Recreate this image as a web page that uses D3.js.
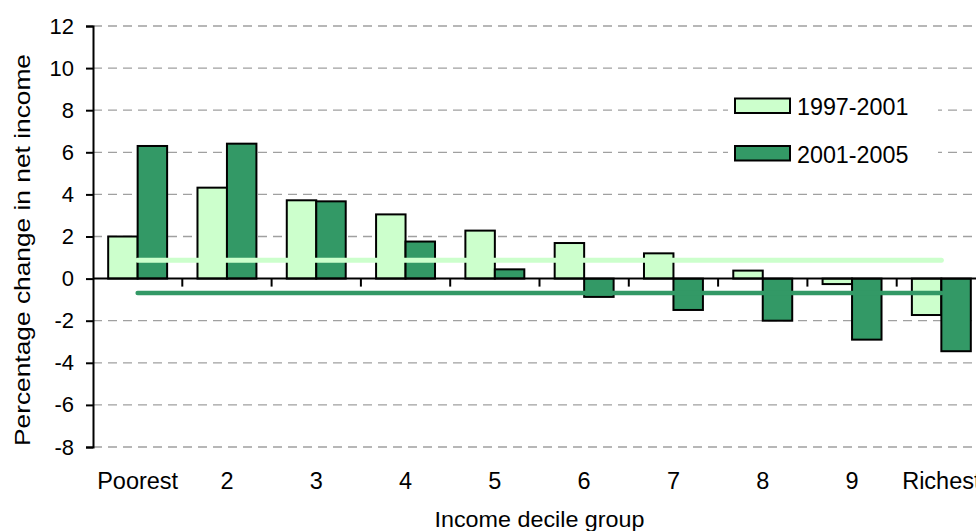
<!DOCTYPE html>
<html>
<head>
<meta charset="utf-8">
<script src="https://cdn.jsdelivr.net/npm/d3@7"></script>
<style>
  html, body { margin: 0; padding: 0; background: #ffffff; }
  svg { display: block; font-family: "Liberation Sans", Arial, sans-serif; }
</style>
</head>
<body>
<svg id="chart" width="976" height="531"></svg>
<script>
// Income decile groups
const categories = ["Poorest", "2", "3", "4", "5", "6", "7", "8", "9", "Richest"];
// Percentage change in net income, by period
const seriesNames = ["1997-2001", "2001-2005"];
const change1997_2001 = [2.0, 4.32, 3.72, 3.05, 2.28, 1.69, 1.2, 0.38, -0.26, -1.73];
const change2001_2005 = [6.3, 6.41, 3.67, 1.76, 0.44, -0.87, -1.49, -2.0, -2.9, -3.45];
// Average change across all households, by period
const averages = [0.87, -0.68];
// Y axis ticks
const yTicks = [-8, -6, -4, -2, 0, 2, 4, 6, 8, 10, 12];

const colors = ["#ccffcc", "#339966"];
const svg = d3.select("#chart");
const W = 976;

const plotLeft = 93, plotRight = 986, plotTop = 26, plotBottom = 447;

const x0 = d3.scaleBand().domain(categories).range([plotLeft, plotRight])
  .paddingInner(0.34).paddingOuter(0.17);
const x1 = d3.scaleBand().domain(seriesNames).range([0, x0.bandwidth()]);
const y = d3.scaleLinear().domain([-8, 12]).range([plotBottom, plotTop]);
const step = x0.step();

// Dashed horizontal gridlines
svg.append("g").selectAll("line")
  .data(yTicks.filter(d => d !== 0))
  .join("line")
  .attr("x1", plotLeft).attr("x2", W)
  .attr("y1", d => y(d)).attr("y2", d => y(d))
  .attr("stroke", "#a0a0a0").attr("stroke-width", 1.3)
  .attr("stroke-dasharray", "9,6");

// Bars
const rows = categories.map((c, i) => ({ cat: c, vals: [change1997_2001[i], change2001_2005[i]] }));
const groups = svg.append("g").selectAll("g")
  .data(rows).join("g")
  .attr("transform", d => `translate(${x0(d.cat)},0)`);
groups.selectAll("rect")
  .data(d => d.vals.map((v, k) => ({ key: seriesNames[k], v, k })))
  .join("rect")
  .attr("x", d => x1(d.key))
  .attr("width", x1.bandwidth())
  .attr("y", d => y(Math.max(0, d.v)))
  .attr("height", d => Math.abs(y(d.v) - y(0)))
  .attr("fill", d => colors[d.k])
  .attr("stroke", "#000").attr("stroke-width", 2);

// Average lines, drawn from the first to the last decile
const cx = c => x0(c) + x0.bandwidth() / 2;
svg.append("g").selectAll("line")
  .data(averages).join("line")
  .attr("x1", cx(categories[0]))
  .attr("x2", cx(categories[categories.length - 1]))
  .attr("y1", d => y(d)).attr("y2", d => y(d))
  .attr("stroke", (d, i) => colors[i])
  .attr("stroke-width", (d, i) => i === 0 ? 5 : 4.5)
  .attr("stroke-linecap", "round");

// X axis line at zero with ticks between groups
const xAxis = svg.append("g");
xAxis.append("line")
  .attr("x1", plotLeft).attr("x2", W)
  .attr("y1", y(0)).attr("y2", y(0))
  .attr("stroke", "#000").attr("stroke-width", 2);
xAxis.selectAll("line.tick")
  .data(categories.slice(0, -1)).join("line")
  .attr("class", "tick")
  .attr("x1", d => x0(d) + x0.bandwidth() + step * x0.paddingInner() / 2)
  .attr("x2", d => x0(d) + x0.bandwidth() + step * x0.paddingInner() / 2)
  .attr("y1", y(0)).attr("y2", y(0) + 8)
  .attr("stroke", "#000").attr("stroke-width", 2);

// Category labels
svg.append("g").selectAll("text")
  .data(categories).join("text")
  .attr("x", d => cx(d))
  .attr("y", 489)
  .attr("text-anchor", "middle")
  .attr("font-size", 23.5)
  .attr("fill", "#000")
  .text(d => d);

// Y axis
const yAxis = svg.append("g")
  .attr("transform", `translate(${plotLeft},0)`)
  .call(d3.axisLeft(y).tickValues(yTicks).tickSize(7).tickPadding(12).tickFormat(d => String(d)));
yAxis.select(".domain").attr("stroke", "#000").attr("stroke-width", 2);
yAxis.selectAll(".tick line").attr("stroke", "#000").attr("stroke-width", 2);
yAxis.selectAll(".tick text").attr("font-size", 22).attr("fill", "#000")
  .attr("font-family", "'Liberation Sans', Arial, sans-serif");

// Axis titles
svg.append("text")
  .attr("transform", "translate(30,250) rotate(-90)")
  .attr("text-anchor", "middle")
  .attr("font-size", 22)
  .attr("textLength", 392).attr("lengthAdjust", "spacingAndGlyphs")
  .attr("fill", "#000")
  .text("Percentage change in net income");

svg.append("text")
  .attr("x", (plotLeft + plotRight) / 2).attr("y", 527)
  .attr("text-anchor", "middle")
  .attr("font-size", 22.5)
  .attr("textLength", 210).attr("lengthAdjust", "spacingAndGlyphs")
  .attr("fill", "#000")
  .text("Income decile group");

// Legend
const legend = svg.append("g");
legend.append("rect")
  .attr("x", 728).attr("y", 80).attr("width", 210).attr("height", 100)
  .attr("fill", "#fff");
const items = legend.selectAll("g.item")
  .data(seriesNames).join("g")
  .attr("class", "item")
  .attr("transform", (d, i) => `translate(0,${i * 47.5})`);
items.append("rect")
  .attr("x", 735).attr("y", 98.5).attr("width", 55).attr("height", 14.5)
  .attr("fill", (d, i) => colors[i])
  .attr("stroke", "#000").attr("stroke-width", 2);
items.append("text")
  .attr("x", 797).attr("y", 115)
  .attr("font-size", 23.3)
  .attr("fill", "#000")
  .text(d => d);
</script>
</body>
</html>
